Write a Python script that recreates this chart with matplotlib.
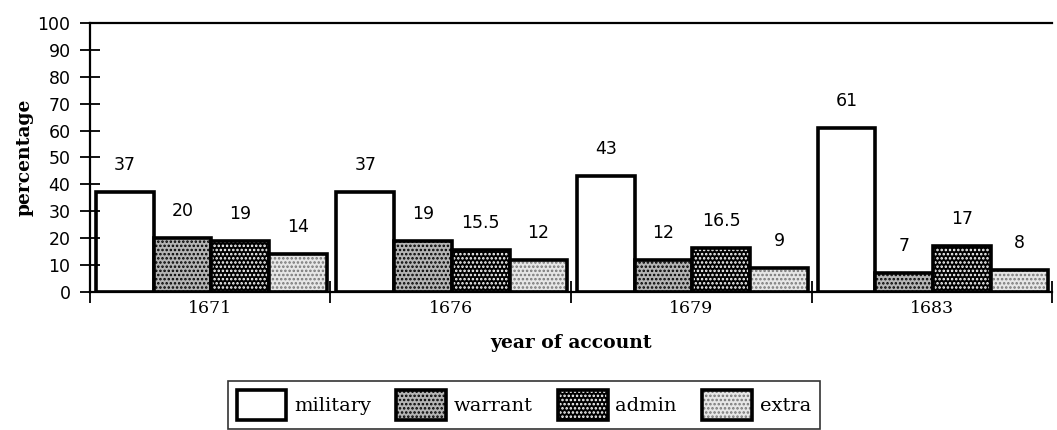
import matplotlib
matplotlib.use("Agg")
import matplotlib.pyplot as plt
import numpy as np
from matplotlib.legend_handler import HandlerTuple

years = ["1671", "1676", "1679", "1683"]
categories = ["military", "warrant", "admin", "extra"]
military = [37, 37, 43, 61]
warrant = [20, 19, 12, 7]
admin = [19, 15.5, 16.5, 17]
extra = [14, 12, 9, 8]
yticks = list(range(0, 101, 10))

series = [military, warrant, admin, extra]
# (face, hatch, hatch colour) per category
styles = [("white", None, "white"),
          ("#b4b4b4", "....", "black"),
          ("black", "....", "white"),
          ("#e6e6e6", "....", "#777777")]

plt.rcParams["hatch.linewidth"] = 1.2
SERIF = "DejaVu Serif"
SANS = "DejaVu Sans"

fig = plt.figure(figsize=(10.57, 4.30), dpi=100)
ax = fig.add_axes([0.0851, 0.321, 0.9102, 0.6255])

x = np.arange(len(years))
w = 0.24
handles = []
for j, (vals, (fc, hatch, hc)) in enumerate(zip(series, styles)):
    pos = x + 0.025 + j * w
    fill = ax.bar(pos, vals, w, align="edge", color=fc, hatch=hatch,
                  edgecolor=hc, linewidth=0)
    outline = ax.bar(pos, vals, w, align="edge", fill=False,
                     edgecolor="black", linewidth=2.6)
    handles.append((fill.patches[0], outline.patches[0]))
    for p, v in zip(pos, vals):
        ax.annotate(f"{v:g}", (p + w / 2, v), xytext=(0, 27), textcoords="offset pixels",
                    ha="center", va="center", fontsize=12.5, family=SANS)

ax.set_xlim(0, 4)
ax.set_ylim(0, 100)
ax.set_yticks(yticks)
ax.set_yticklabels([str(t) for t in yticks], family=SANS, fontsize=12.5)
ax.tick_params(axis="y", direction="inout", length=14, width=1.3, pad=7)

ax.set_xticks(x + 0.5)
ax.set_xticklabels(years, family=SERIF, fontsize=12.5)
ax.set_xticks(np.arange(0, 5), minor=True)
ax.tick_params(axis="x", which="major", length=0, pad=6)
ax.tick_params(axis="x", which="minor", direction="inout", length=16, width=1.3)

for s in ("left", "bottom", "top"):
    ax.spines[s].set_linewidth(1.6)
ax.spines["right"].set_visible(False)

ax.set_ylabel("percentage", family=SERIF, fontweight="bold", fontsize=13.5, labelpad=3)
ax.set_xlabel("year of account", family=SERIF, fontweight="bold", fontsize=13.5, labelpad=12)

leg = fig.legend(handles, categories, loc="upper left",
                 bbox_to_anchor=(0.2157, 0.113),
                 ncol=4, handler_map={tuple: HandlerTuple(ndivide=1)},
                 prop={"family": SERIF, "size": 14}, frameon=True, fancybox=False,
                 handlelength=2.55, handleheight=2.0, handletextpad=0.4,
                 columnspacing=1.3, borderpad=0.45, borderaxespad=0)
leg.get_frame().set_edgecolor("black")
leg.get_frame().set_linewidth(1.2)

fig.savefig("out.png", dpi=100)
